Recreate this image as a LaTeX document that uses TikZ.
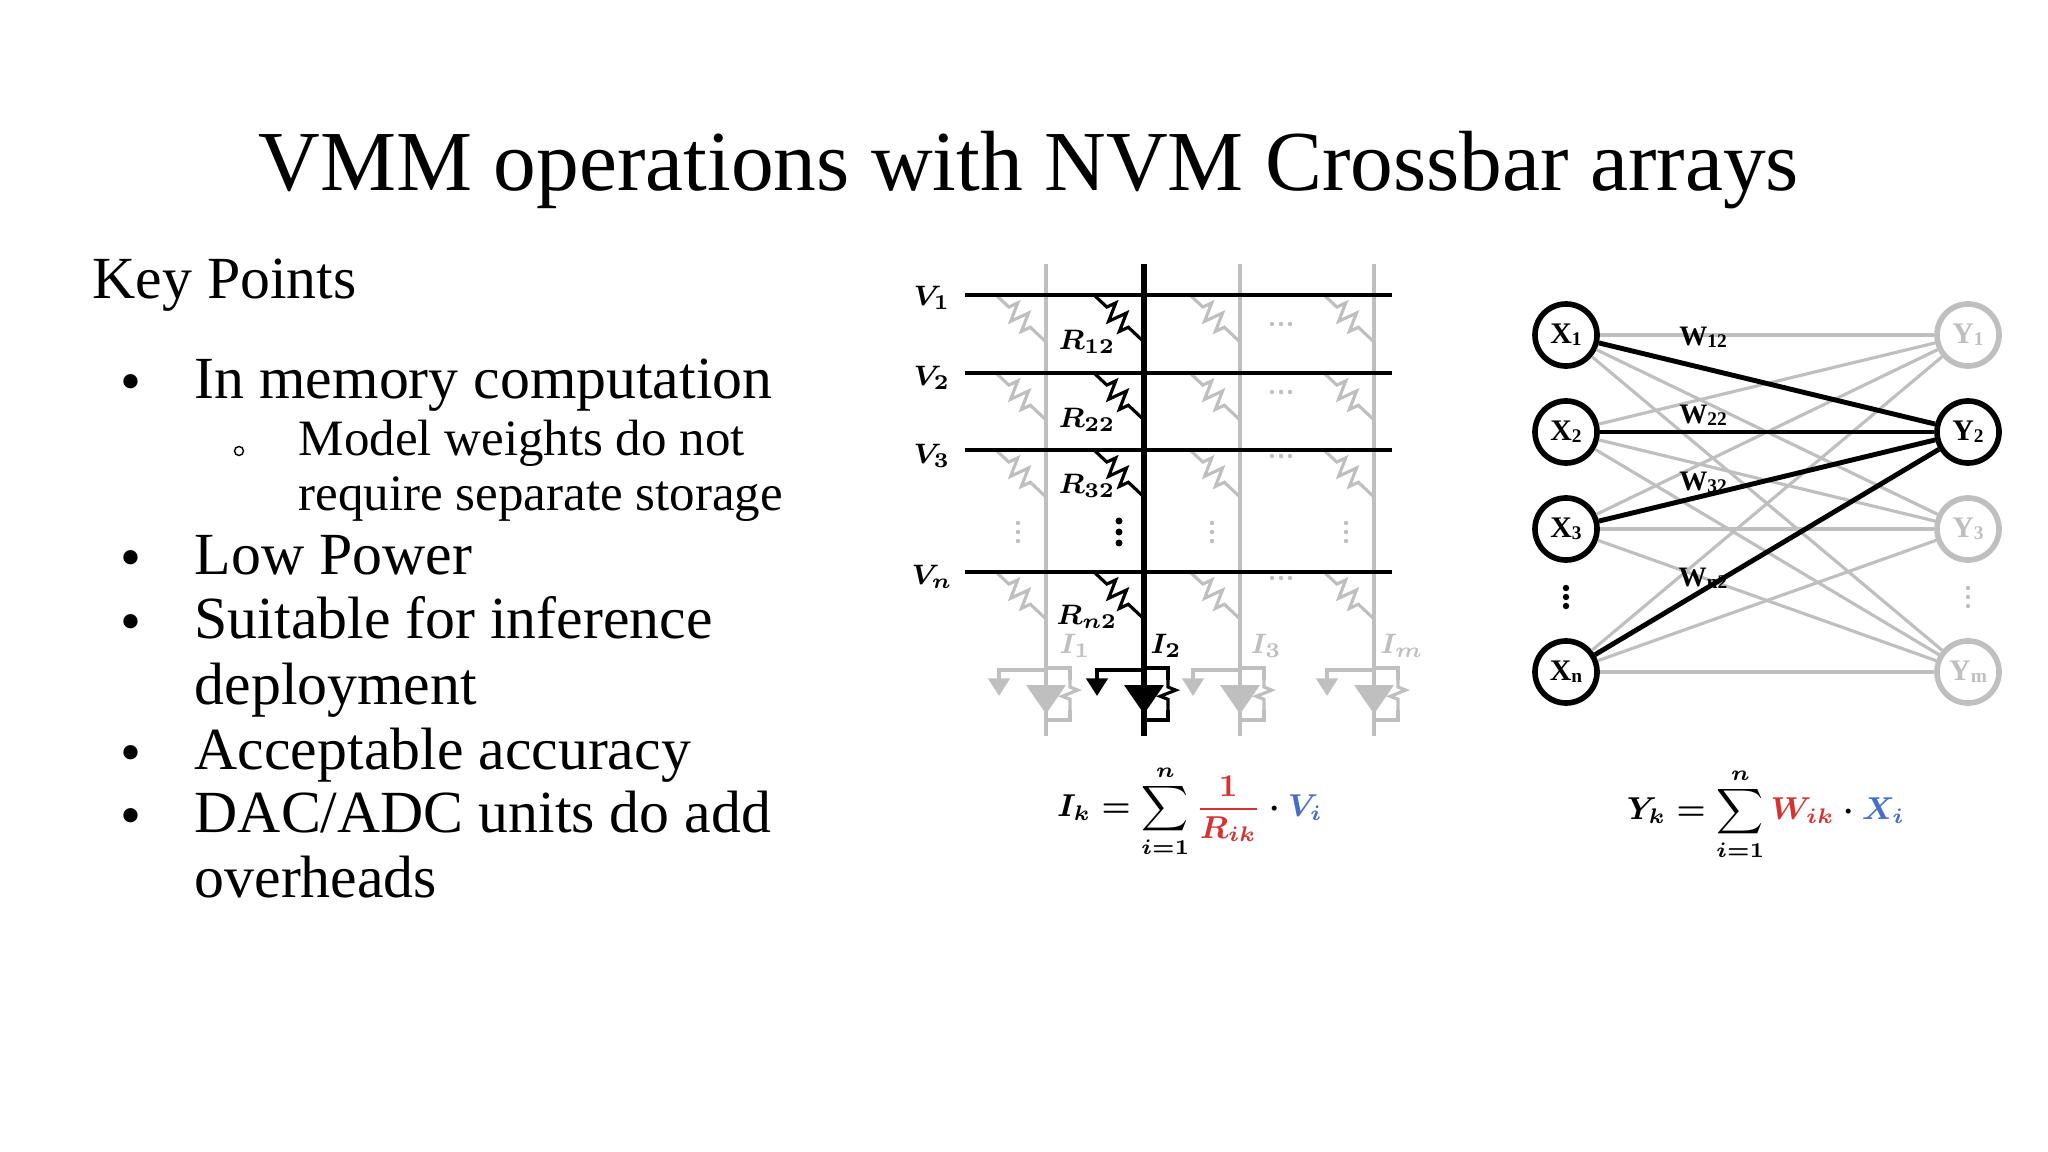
\documentclass[tikz,border=0pt]{standalone}
\usepackage{fontspec}
\setmainfont{Liberation Serif}
\usepackage{amsmath,bm}
\usetikzlibrary{decorations.pathmorphing,arrows.meta}
\definecolor{lg}{gray}{0.75}
\definecolor{eqred}{RGB}{215,50,50}
\definecolor{eqblue}{RGB}{70,110,200}
\tikzset{
  body/.style={anchor=mid west,inner sep=0pt,font=\fontsize{17}{20}\selectfont},
  sub/.style={anchor=mid west,inner sep=0pt,font=\fontsize{14.5}{17}\selectfont},
  wire/.style={line width=1.1pt},
  gwire/.style={line width=1.1pt,draw=lg},
  res/.style={decorate,decoration={zigzag,segment length=4.2pt,amplitude=2.6pt,pre length=5pt,post length=5pt},line width=0.9pt},
  vres/.style={decorate,decoration={zigzag,segment length=3.5pt,amplitude=2.2pt,pre length=2pt,post length=2pt},line width=0.9pt},
  xlab/.style={inner sep=0pt,font=\fontsize{8.5}{10}\selectfont\boldmath},
  neur/.style={circle,minimum size=0.62cm,inner sep=0pt,line width=1.6pt,font=\fontsize{8.5}{10}\selectfont\bfseries},
  wlab/.style={inner sep=0pt,font=\fontsize{8}{10}\selectfont\bfseries},
  eqn/.style={inner sep=0pt,font=\fontsize{9}{11}\selectfont\boldmath},
}
\newcommand{\sub}[1]{\raisebox{-0.15ex}{\fontsize{5.5}{6}\selectfont #1}}
\begin{document}
\begin{tikzpicture}[x=0.01cm,y=-0.01cm]
\useasboundingbox (0,0) rectangle (2048,1152);
% title and text
\node[font=\fontsize{24.3}{29}\selectfont] (title) at (1029,170) {VMM operations with NVM Crossbar arrays};
\node[body] (kp) at (92,290) {Key Points};
\node[body] (b1d) at (120,393) {•};
\node[body] (b1) at (194,390) {In memory computation};
\draw (239,451) circle (4.5);
\coordinate (b1s) at (239,451);
\node[sub] (s1) at (298,447) {Model weights do not};
\node[sub] (s2) at (298,502) {require separate storage};
\node[body] (b2d) at (120,569) {•};
\node[body] (b2) at (194,566) {Low Power};
\node[body] (b3d) at (120,633) {•};
\node[body] (b3) at (194,630) {Suitable for inference};
\node[body] (b3b) at (194,696) {deployment};
\node[body] (b4d) at (120,764) {•};
\node[body] (b4) at (194,761) {Acceptable accuracy};
\node[body] (b5d) at (120,827) {•};
\node[body] (b5) at (194,824) {DAC/ADC units do add};
\node[body] (b5b) at (194,889) {overheads};

% ---------- crossbar ----------
\foreach \cx in {1046,1240,1374}{
  \draw[gwire] (\cx,264) -- (\cx,736);
  \foreach \ry in {295,373,450,572}{
    \draw[res,draw=lg] (\cx-50,\ry) -- (\cx,\ry+47);
  }
  \foreach \dy in {523,532,541}{\fill[lg] (\cx-28,\dy) circle (2.2);}
  % sense amp
  \fill[lg] (\cx-20,685) -- (\cx+20,685) -- (\cx,714) -- cycle;
  \draw[gwire] (\cx,668) -- (\cx+24,668) -- (\cx+24,680);
  \draw[vres,draw=lg] (\cx+24,680) -- (\cx+24,710);
  \draw[gwire] (\cx+24,710) -- (\cx+24,720) -- (\cx,720);
  \draw[gwire,-{Triangle[length=5pt,width=6pt]}] (\cx,670) -- (\cx-47,670) -- (\cx-47,696);
}
\foreach \ry in {324,392,456,578}{
  \foreach \dx in {-9,0,9}{\fill[lg] (1281+\dx,\ry) circle (2.2);}
}
% black column
\draw[wire,line width=1.6pt] (1144,264) -- (1144,736);
\foreach \ry in {295,373,450,572}{
  \draw[wire] (965,\ry) -- (1392,\ry);
  \draw[res] (1094,\ry) -- (1144,\ry+47);
}
\foreach \dy in {521,532,543}{\fill (1119,\dy) circle (3.5);}
\fill (1124,685) -- (1164,685) -- (1144,714) -- cycle;
\draw[wire] (1144,668) -- (1168,668) -- (1168,680);
\draw[vres] (1168,680) -- (1168,710);
\draw[wire] (1168,710) -- (1168,720) -- (1144,720);
\draw[wire,-{Triangle[length=5pt,width=6pt]}] (1144,670) -- (1097,670) -- (1097,696);

\node[xlab] (v1) at (932,298) {$V_1$};
\node[xlab] (v2) at (932,378) {$V_2$};
\node[xlab] (v3) at (932,456) {$V_3$};
\node[xlab] (vn) at (932,577) {$V_n$};
\node[xlab] (r12) at (1087,342) {$R_{12}$};
\node[xlab] (r22) at (1087,420) {$R_{22}$};
\node[xlab] (r32) at (1087,486) {$R_{32}$};
\node[xlab] (rn2) at (1087,617) {$R_{n2}$};
\node[xlab,text=lg] (i1) at (1075,646) {$I_1$};
\node[xlab] (i2) at (1166,646) {$I_2$};
\node[xlab,text=lg] (i3) at (1266,646) {$I_3$};
\node[xlab,text=lg] (im) at (1402,646) {$I_m$};
\node[eqn] (eq1) at (1190,811)
  {$I_k=\displaystyle\sum_{i=1}^{n}\textcolor{eqred}{\frac{1}{R_{ik}}}\cdot\textcolor{eqblue}{V_i}$};

% ---------- neural net ----------
\node[neur,draw] (x1) at (1566,335) {X\sub{1}};
\node[neur,draw] (x2) at (1566,432) {X\sub{2}};
\node[neur,draw] (x3) at (1566,529) {X\sub{3}};
\node[neur,draw] (xn) at (1566,672) {X\sub{n}};
\node[neur,draw=lg,text=lg] (y1) at (1968,335) {Y\sub{1}};
\node[neur,draw] (y2) at (1968,432) {Y\sub{2}};
\node[neur,draw=lg,text=lg] (y3) at (1968,529) {Y\sub{3}};
\node[neur,draw=lg,text=lg] (ym) at (1968,672) {Y\sub{m}};
\foreach \a in {x1,x2,x3,xn}{
  \foreach \b in {y1,y3,ym}{\draw[lg,line width=0.9pt] (\a) -- (\b);}
}
\foreach \a in {x1,x2,x3,xn}{\draw[line width=1.4pt] (\a) -- (y2);}
\foreach \dy in {588,597,606}{\fill (1566,\dy) circle (3.2);}
\foreach \dy in {588,597,606}{\fill[lg] (1968,\dy) circle (2.2);}
\node[wlab] (w12) at (1703,337) {W\sub{12}};
\node[wlab] (w22) at (1703,415) {W\sub{22}};
\node[wlab] (w32) at (1703,482) {W\sub{32}};
\node[wlab] (wn2) at (1703,578) {W\sub{n2}};
\node[eqn] (eq2) at (1766,814)
  {$Y_k=\displaystyle\sum_{i=1}^{n}\textcolor{eqred}{W_{ik}}\cdot\textcolor{eqblue}{X_i}$};
\end{tikzpicture}
\end{document}
